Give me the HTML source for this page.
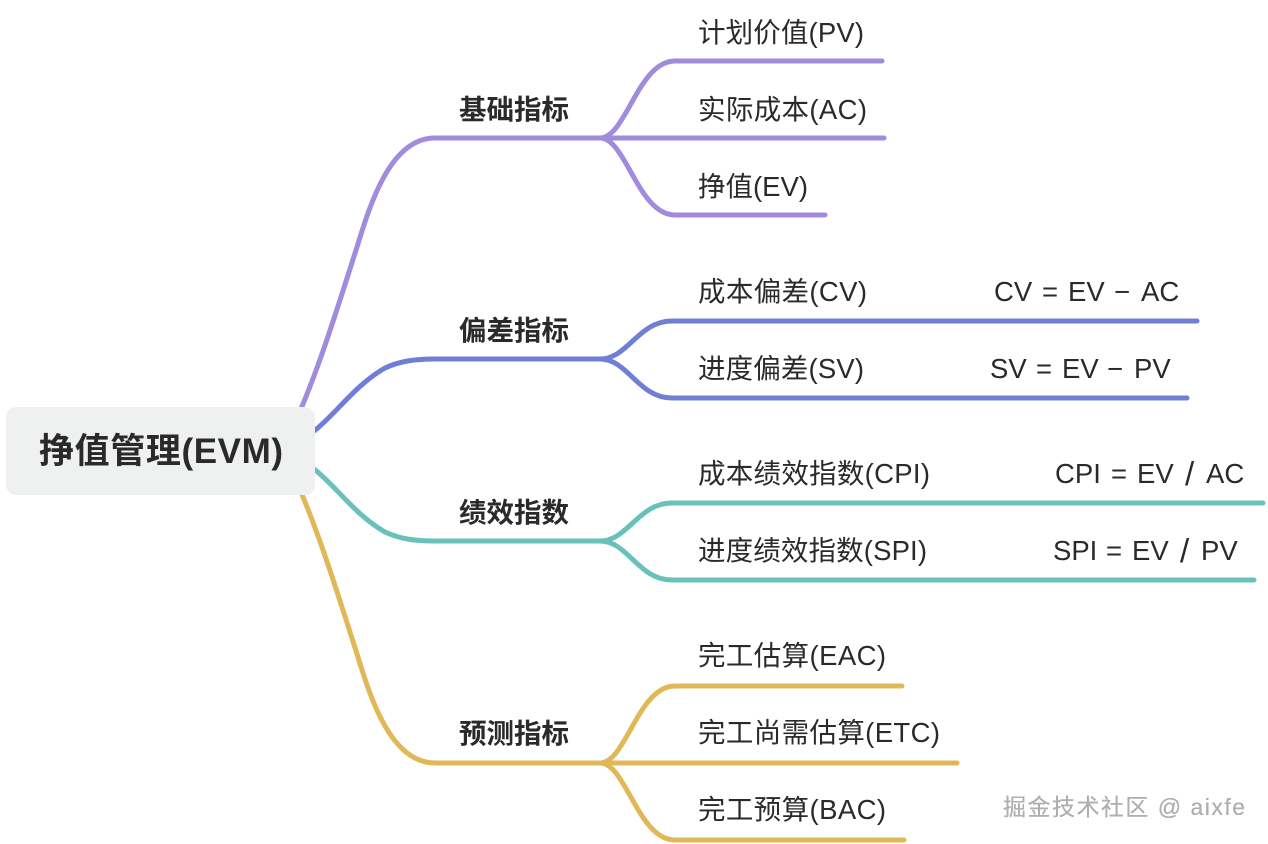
<!DOCTYPE html>
<html><head><meta charset="utf-8">
<style>
html,body{margin:0;padding:0;background:#fff;width:1268px;height:844px;overflow:hidden}
svg{display:block;filter:blur(0.35px)}
text{font-family:"Liberation Sans","Noto Sans CJK SC",sans-serif;fill:#2a2a2a;font-size:27.5px}
.b{font-weight:700}
.g path{fill:none;stroke-width:5;stroke-linecap:round}
.s{font-size:33px}
</style></head><body>
<svg width="1268" height="844" viewBox="0 0 1268 844" xmlns="http://www.w3.org/2000/svg">
<g class="g">
<path stroke="#a08bdc" d="M300,411 C320,365 340,300 357,247 C370,205 390,138 435,138 L600,138"/>
<path stroke="#a08bdc" d="M600,138 C626,138 638,61 675,61 L882,61"/>
<path stroke="#a08bdc" d="M600,138 L884,138"/>
<path stroke="#a08bdc" d="M600,138 C626,138 638,215 675,215 L825,215"/>
<path stroke="#6f7fd6" d="M314,431 C335,415 355,385 385,368 C400,361 415,359 435,359 L600,359"/>
<path stroke="#6f7fd6" d="M600,359 C628,359 638,321 672,321 L1197,321"/>
<path stroke="#6f7fd6" d="M600,359 C628,359 638,398 672,398 L1187,398"/>
<path stroke="#68c1bb" d="M314,469 C335,485 355,515 385,532 C400,539 415,541 435,541 L600,541"/>
<path stroke="#68c1bb" d="M600,541 C628,541 638,503 672,503 L1263,503"/>
<path stroke="#68c1bb" d="M600,541 C628,541 638,580 672,580 L1254,580"/>
<path stroke="#e0b858" d="M300,490 C320,536 340,601 357,654 C370,696 390,763 435,763 L600,763"/>
<path stroke="#e0b858" d="M600,763 C626,763 638,686 675,686 L902,686"/>
<path stroke="#e0b858" d="M600,763 L957,763"/>
<path stroke="#e0b858" d="M600,763 C626,763 638,840 675,840 L904,840"/>
</g>
<rect x="6" y="407" width="309" height="88" rx="10" fill="#eff1f1"/>
<text class="b" x="39" y="463" style="font-size:35px" textLength="244">挣值管理(EVM)</text>
<text class="b" x="459" y="119" textLength="110">基础指标</text>
<text class="b" x="459" y="340" textLength="110">偏差指标</text>
<text class="b" x="459" y="522" textLength="110">绩效指数</text>
<text class="b" x="459" y="743" textLength="110">预测指标</text>
<text x="698" y="42" textLength="166">计划价值(PV)</text>
<text x="698" y="119" textLength="169">实际成本(AC)</text>
<text x="698" y="196" textLength="110">挣值(EV)</text>
<text x="698" y="301" textLength="169">成本偏差(CV)</text>
<text x="698" y="378" textLength="166">进度偏差(SV)</text>
<text x="698" y="483" textLength="232">成本绩效指数(CPI)</text>
<text x="698" y="560" textLength="229">进度绩效指数(SPI)</text>
<text x="698" y="665" textLength="188">完工估算(EAC)</text>
<text x="698" y="742" textLength="242">完工尚需估算(ETC)</text>
<text x="698" y="819" textLength="188">完工预算(BAC)</text>
<text y="301"><tspan x="994">CV</tspan><tspan x="1042">=</tspan><tspan x="1068">EV</tspan><tspan x="1114">−</tspan><tspan x="1141">AC</tspan></text>
<text y="378"><tspan x="990">SV</tspan><tspan x="1036">=</tspan><tspan x="1062">EV</tspan><tspan x="1107">−</tspan><tspan x="1134">PV</tspan></text>
<text y="483"><tspan x="1055">CPI</tspan><tspan x="1111">=</tspan><tspan x="1137">EV</tspan><tspan x="1206">AC</tspan></text>
<text class="s" x="1185" y="485">/</text>
<text y="560"><tspan x="1053">SPI</tspan><tspan x="1106">=</tspan><tspan x="1132">EV</tspan><tspan x="1201">PV</tspan></text>
<text class="s" x="1180" y="562">/</text>
<text x="1003" y="815" style="font-size:23px;fill:#b0b0b0;filter:drop-shadow(0.7px 0.7px 0 #777)" textLength="242">掘金技术社区 @ aixfe</text>
</svg>
</body></html>
